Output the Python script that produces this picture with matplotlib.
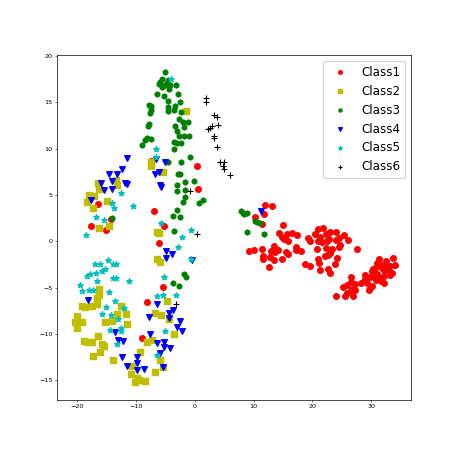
import matplotlib
matplotlib.use("Agg")
import matplotlib.pyplot as plt

# Class1 - red circles
c1_x = [-7.5, 0.35, 0.55, -16.5, -6.9, -14.25, -17.7, -15.1, -5.3, -6.0, -5.45, -8.1, -8.9,
        11.95, 13.1, 10.3, 11.8, 11.5, 15.0, 14.3, 14.8, 15.6, 16.5, 17.4, 15.2, 15.9, 13.5,
        9.2, 10.0, 11.4, 13.0, 14.2, 13.7, 11.6, 11.6, 12.7, 13.5, 14.8, 15.5, 15.9, 12.6,
        17.2, 17.2, 18.1, 18.7, 19.6,
        21.0, 21.8, 20.4, 21.3, 22.3, 23.0, 24.0, 25.4, 19.3, 19.6, 20.9, 21.6, 22.4, 22.8,
        24.0, 24.5, 26.0, 20.7, 22.3, 23.4, 24.5, 24.7, 27.6, 22.2, 22.7, 23.0, 24.2, 20.9,
        21.1, 21.3, 22.6, 22.9, 23.9, 24.0,
        25.85, 25.2, 26.5, 26.6, 27.2, 26.9, 26.5, 25.85, 25.6, 26.9, 27.2, 28.2, 28.9, 29.0,
        29.3, 29.8, 29.8, 30.1, 30.7, 31.0, 31.3, 31.3, 31.6, 32.1, 32.1, 32.1, 32.4, 32.5,
        32.9, 33.2, 33.55, 33.7, 33.2, 34.1, 30.8, 30.1, 29.6, 30.95, 31.9, 31.6, 30.3, 30.7]
c1_y = [8.65, 8.1, 5.6, 4.0, 3.3, 2.4, 1.65, 1.2, 1.65, -0.2, -4.95, -6.6, -10.4,
        3.95, 3.75, 2.65, 2.9, 1.9, 1.8, 0.85, 0.5, 0.8, 0.9, 0.7, 0.25, 0.05, -0.5,
        -1.05, -0.95, -0.85, -1.0, -0.9, -1.2, -1.55, -1.9, -1.65, -2.05, -1.9, -1.15, -1.4, -2.8,
        -0.65, -0.9, -1.1, -2.4, -2.65,
        1.35, 1.4, 0.8, 0.5, 0.8, 0.95, 1.0, 0.7, 0.35, 0.0, 0.0, -0.05, 0.05, 0.2,
        0.15, 0.35, 0.15, -0.85, -0.7, -0.85, -0.65, -0.4, -0.85, -1.55, -1.45, -1.25, -1.75, -1.95,
        -2.35, -3.05, -2.95, -3.45, -2.45, -5.9,
        -4.7, -4.95, -3.85, -4.35, -4.6, -5.1, -5.25, -5.6, -5.85, -5.85, -5.2, -4.45, -3.6, -4.1,
        -4.55, -5.0, -3.8, -3.25, -2.85, -3.55, -3.85, -1.9, -4.3, -4.55, -3.7, -3.1, -2.65, -2.15,
        -3.05, -3.6, -3.45, -1.8, -2.7, -2.55, -4.2, -4.8, -5.25, -2.35, -2.9, -2.55, -2.95, -3.7]

# Class2 - yellow squares
c2_x = [-1.45, -7.5, -7.5, -5.4, -16.5, -13.4, -13.3, -16.3, -18.0, -17.2, -18.3, -15.0, -17.35,
        -16.3, -14.6, -6.5, -6.0, -6.45, -5.95,
        -16.2, -16.3, -16.6, -16.6, -17.5, -18.6, -19.2, -12.5, -13.2, -11.7, -20.0, -20.35,
        -19.2, -20.1, -15.3, -14.1, -11.5, -16.5, -18.9, -18.1, -17.4, -15.8, -15.4, -16.15,
        -17.35, -13.95,
        -4.65, -6.75, -5.75, -4.3, -3.45, -8.1, -7.2, -9.25, -5.85, -5.4, -10.6, -6.8, -9.85,
        -9.5, -10.15, -8.5, -10.8]
c2_y = [14.05, 8.6, 8.15, 7.5, 6.25, 6.6, 6.1, 5.65, 5.0, 4.9, 4.2, 4.3, 3.6,
        1.45, 1.7, 1.05, 0.85, -1.9, -2.2,
        -5.1, -5.8, -6.1, -6.8, -7.0, -7.1, -7.0, -6.95, -7.8, -7.85, -8.1, -8.75,
        -8.65, -9.35, -8.75, -8.55, -8.9, -10.25, -10.7, -10.85, -10.9, -11.05, -11.25, -11.95,
        -12.35, -12.85,
        -6.45, -7.75, -7.9, -8.35, -10.0, -10.85, -10.65, -11.9, -12.75, -13.55, -13.45, -14.1, -14.75,
        -15.0, -15.2, -15.05, -14.3]

# Class3 - green
c3_x = [-5.1, -5.85, -5.5, -6.1, -4.7, -4.5, -4.25, -5.0, -5.5, -4.4, -3.2, -6.4, -5.2, -2.9,
        -4.6, -2.5, -7.8, -7.5, -4.5, -3.4, -7.4, -7.55, -4.6, -3.5, -2.3, -2.6, -2.0, -1.15,
        -3.4, -1.8, -7.7, -7.9, -3.1, -2.6, -1.9, -1.0, -8.2, -8.4, -7.4, -8.9, -3.5, -3.1,
        -2.3, -3.6,
        -0.85, -4.5, -2.3, -2.8, -2.45, -3.0, -1.7, -0.15, -3.1, -1.7, -1.65, -1.95, 0.65, 1.35,
        -2.95, -3.75, -2.5, -14.0, -3.5,
        -1.9, -1.55, -3.7, -2.6,
        7.9, 8.15, 8.4, 8.85, 10.2, 10.65, 11.1, 8.95, 11.7]
c3_y = [18.3, 17.2, 17.5, 17.0, 17.1, 17.4, 16.9, 16.9, 16.6, 16.4, 16.9, 15.9, 15.7, 15.9,
        15.1, 15.0, 14.7, 14.6, 14.5, 14.6, 14.2, 13.85, 14.0, 14.1, 13.9, 13.2, 12.85, 12.9,
        12.45, 12.3, 12.6, 12.4, 11.9, 11.35, 11.35, 11.3, 11.15, 10.95, 11.05, 10.4, 10.75, 10.55,
        10.6, 10.0,
        9.05, 8.6, 8.5, 7.2, 7.2, 6.1, 6.4, 6.5, 5.4, 5.5, 4.8, 4.2, 4.1, 4.45,
        3.4, 2.7, 2.6, 2.5, 1.15,
        -3.5, -3.8, -4.5, -4.8,
        3.3, 3.1, 2.9, 3.05, 2.2, 2.05, 1.95, 1.0, 0.8]

# Class4 - blue triangles
c4_x = [-11.6, -12.35, -14.5, -13.3, -15.9, -14.1, -11.8, -11.45, -15.4, -14.1, -17.6, -6.6,
        -5.1, -6.75, -6.15, -5.95, -5.8, 11.2,
        -18.15, -4.85, -3.95, -4.95, -0.55, -6.5, -7.7, -4.4, -3.75, -4.4, -2.55, -3.05, -2.15,
        -7.65, -6.35, -5.15, -5.15, -4.25, -5.85, -5.35, -13.55, -13.0, -12.2, -12.4, -11.55,
        -9.9, -9.8, -9.8, -8.7]
c4_y = [9.0, 7.8, 7.25, 7.2, 6.3, 6.5, 6.3, 6.2, 5.5, 5.65, 4.5, 8.85,
        8.6, 7.3, 7.5, 6.1, 5.9, 3.25,
        -6.3, -1.05, -1.35, -1.75, -2.0, -6.75, -8.15, -7.7, -7.45, -8.3, -8.6, -9.2, -9.65,
        -10.0, -10.95, -10.9, -11.45, -11.5, -12.0, -13.55, -9.8, -10.6, -10.8, -12.45, -13.45,
        -12.5, -13.15, -13.9, -13.8]

# Class5 - cyan stars
c5_x = [-4.1, -6.55, -6.6, -12.5, -14.0, -13.65, -10.5, -16.8, -15.35, -18.5, -5.7, -0.65,
        -2.1, -2.85, -0.6,
        -17.0, -16.05, -14.7, -13.95, -13.4, -15.3, -15.7, -16.8, -17.75, -18.25, -13.85,
        -13.45, -16.7, -11.2, -19.45, -19.2, -17.9, -17.3, -14.5, -13.5, -15.1, -15.8, -14.3,
        -12.1, -13.0, -12.6, -12.55, -14.4, -13.2,
        -5.25, -6.4, -5.35, -3.2, -5.1, -6.5]
c5_y = [17.5, 9.9, 9.1, 5.25, 4.15, 3.6, 3.75, 2.6, 2.3, 0.65, 2.0, 1.2,
        0.45, -0.6, -1.9,
        -2.4, -2.4, -2.05, -2.45, -2.4, -3.0, -3.2, -3.4, -3.55, -3.7, -4.0,
        -4.0, -4.25, -4.3, -4.75, -5.4, -5.3, -5.3, -5.5, -6.4, -7.05, -7.8, -7.9,
        -7.2, -8.4, -9.3, -9.7, -9.6, -11.1,
        -3.85, -5.9, -5.75, -5.8, -9.65, -12.25]

# Class6 - black plus
c6_x = [1.9, 1.9, 3.3, 3.7, 2.3, 2.6, 3.0, 4.0, 3.3, 3.3, 3.7, 4.3, 5.0, 4.8, 5.0, 5.9,
        -0.8, 0.3, -3.2]
c6_y = [15.4, 15.0, 13.6, 13.4, 12.1, 12.2, 12.4, 12.5, 11.4, 11.1, 10.2, 8.6, 8.6, 8.1,
        7.8, 7.1, 5.4, 0.8, -6.8]

fig = plt.figure(figsize=(4.57, 4.57), dpi=100)
ax = fig.add_axes([0.125, 0.125, 0.775, 0.755])

ms = 16
ax.scatter(c1_x, c1_y, c="r", marker="o", s=ms, label="Class1")
ax.scatter(c2_x, c2_y, c="y", marker="s", s=ms, label="Class2")
ax.scatter(c3_x, c3_y, c="g", marker="h", s=ms * 0.85, label="Class3")
ax.scatter(c4_x, c4_y, c="b", marker="v", s=ms, label="Class4")
ax.scatter(c5_x, c5_y, c="c", marker="*", s=ms, label="Class5")
ax.scatter(c6_x, c6_y, c="k", marker="+", s=ms, linewidths=0.8, label="Class6")

ax.set_xlim(-23.4, 36.8)
ax.set_ylim(-17.1, 20.1)
ax.set_xticks([-20, -10, 0, 10, 20, 30])
ax.set_yticks([-15, -10, -5, 0, 5, 10, 15, 20])
ax.tick_params(labelsize=4.6, length=1.6, width=0.4, pad=1.5)
for sp in ax.spines.values():
    sp.set_linewidth(0.5)

ax.legend(loc="upper right", fontsize=8.6, markerscale=0.65, borderaxespad=0.5)

fig.savefig("out.png", dpi=100)
